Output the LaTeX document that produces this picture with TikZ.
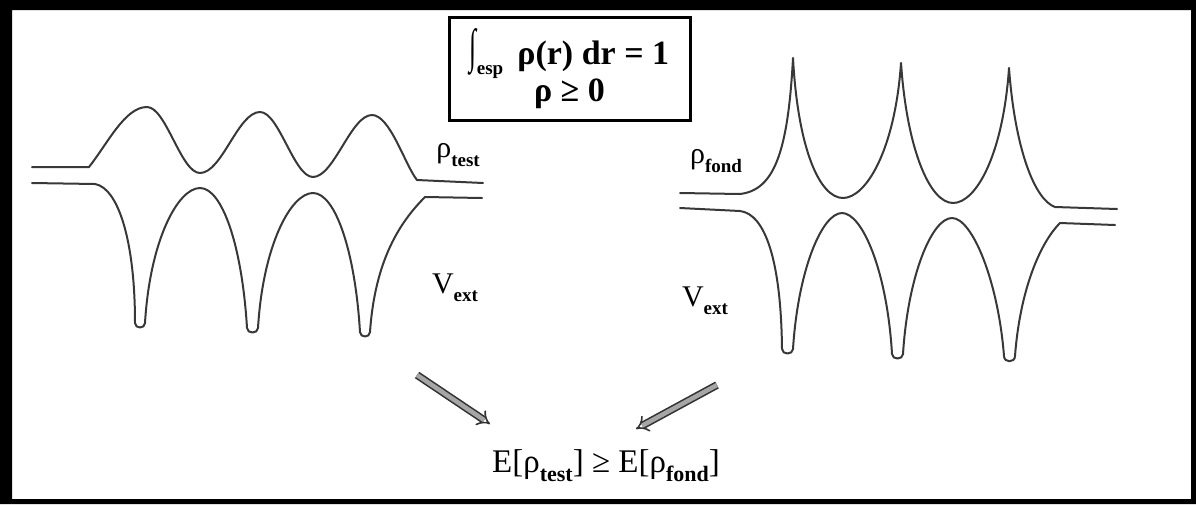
\documentclass[tikz,border=0pt]{standalone}
\usepackage{fontspec}
\setmainfont{Liberation Serif}
\usetikzlibrary{arrows.meta}
\newcommand\mysub[2][19]{\raisebox{-0.28em}{\fontsize{#1}{#1}\selectfont\bfseries #2}}
\tikzset{
  curve/.style={draw=black!78, line width=2pt, line join=round, line cap=round},
  lbl/.style={font=\fontsize{30}{34}\selectfont, inner sep=0pt},
  formula/.style={font=\fontsize{33}{36}\selectfont, inner sep=0pt},
  boxed/.style={draw, line width=3pt, align=center, minimum width=241pt, minimum height=103pt, inner sep=0pt,
    font=\fontsize{34}{38}\selectfont\bfseries},
  dblarrow/.style={draw=black!80, double=black!35, double distance=4.5pt, line width=1.6pt,
    -{Implies[length=9pt]}}
}
\begin{document}
\begin{tikzpicture}[x=1pt,y=-1pt]
\useasboundingbox (0,0) rectangle (1196,504);
% frame
\fill[black, even odd rule] (0,0) rectangle (1196,504) (12,10) rectangle (1191,499);

% box with constraints
\node[boxed] (box) at (569.5,68.5) {\raisebox{0.08em}{\scalebox{0.75}[1.4]{∫}}\mysub[19]{esp}\, ρ(r) dr = 1\\[-1pt] ρ ≥ 0};

% left: test density
\draw[curve] (32,167) -- (89,167) .. controls (108,143) and (125,107) .. (147,107)
  .. controls (166,107) and (181,173) .. (200,173)
  .. controls (222,173) and (238,112) .. (260,112)
  .. controls (279,112) and (294,177) .. (313,177)
  .. controls (334,177) and (351,115) .. (372,115)
  .. controls (390,115) and (405,165) .. (417,180) -- (483,183);
% left: external potential
\draw[curve] (32,183) -- (95,184) .. controls (118,188) and (135,240) .. (135,323)
  .. controls (135,329) and (145,329) .. (145,323)
  .. controls (150,240) and (178,188) .. (200,188)
  .. controls (222,188) and (242,245) .. (247,328)
  .. controls (247,334) and (258,334) .. (258,328)
  .. controls (263,245) and (291,193) .. (313,193)
  .. controls (335,193) and (355,250) .. (360,332)
  .. controls (360,338) and (370,338) .. (370,332)
  .. controls (375,260) and (400,222) .. (425,197) -- (482,198);

% right: ground-state density
\draw[curve] (680,193) -- (740,194) .. controls (775,190) and (788,150) .. (793,58)
  .. controls (798,150) and (820,198) .. (843,198)
  .. controls (866,198) and (895,150) .. (901,63)
  .. controls (907,150) and (930,203) .. (953,203)
  .. controls (976,203) and (1003,155) .. (1009,68)
  .. controls (1015,150) and (1035,200) .. (1055,207) -- (1117,209);
% right: external potential
\draw[curve] (680,208) -- (740,211) .. controls (765,214) and (781,260) .. (782,349)
  .. controls (782,355) and (793,355) .. (793,349)
  .. controls (798,270) and (822,213) .. (842,213)
  .. controls (862,213) and (887,270) .. (892,354)
  .. controls (892,360) and (903,360) .. (903,354)
  .. controls (908,275) and (932,218) .. (952,218)
  .. controls (972,218) and (998,280) .. (1004,356)
  .. controls (1004,363) and (1015,363) .. (1015,356)
  .. controls (1020,290) and (1040,243) .. (1060,223) -- (1115,225);

% labels
\node[lbl] (rtest) at (458,155) {ρ\mysub{test}};
\node[lbl] (vextl) at (455,288) {V\mysub{ext}};
\node[lbl] (rfond) at (716,161) {ρ\mysub{fond}};
\node[lbl] (vextr) at (705,301) {V\mysub{ext}};

% result
\node[formula] (res) at (606,466) {E[ρ\mysub[22]{test}] ≥ E[ρ\mysub[22]{fond}]};

% arrows
\coordinate (a1s) at (417,375);
\coordinate (a2s) at (717,385);
\coordinate (a1e) at (490,424);
\coordinate (a2e) at (636,429);
\draw[dblarrow] (a1s) -- (a1e);
\draw[dblarrow] (a2s) -- (a2e);
\end{tikzpicture}
\end{document}
